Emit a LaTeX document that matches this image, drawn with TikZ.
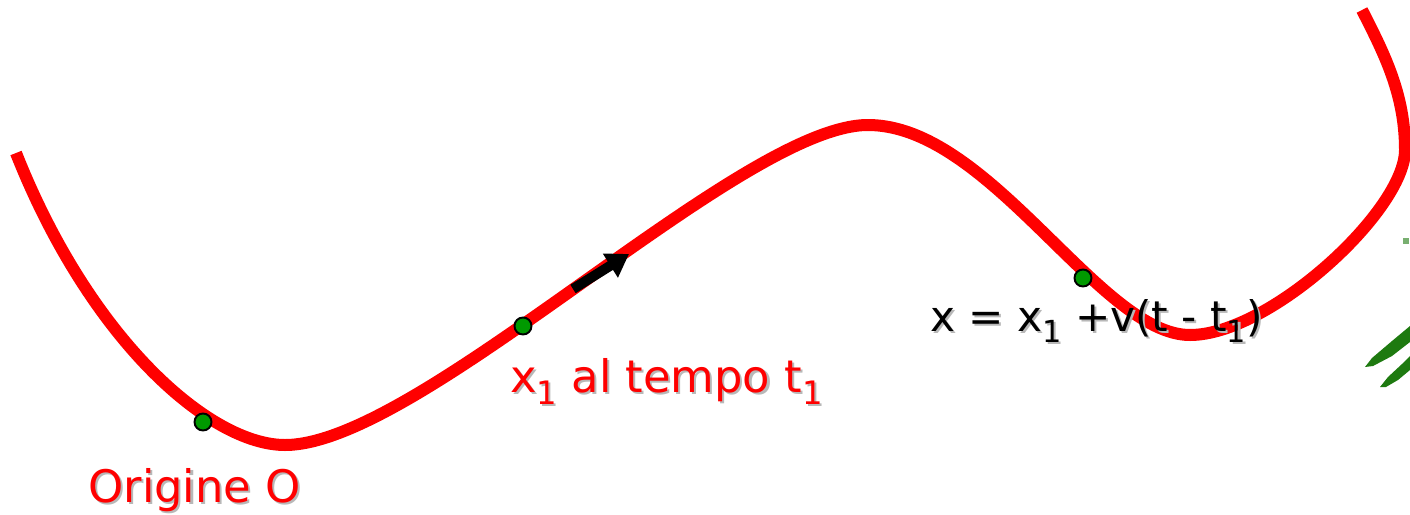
\documentclass[tikz,border=0pt]{standalone}
\usepackage{fontspec}
\setmainfont{DejaVu Sans}
\usetikzlibrary{arrows.meta}
\definecolor{curvered}{HTML}{FF0000}
\definecolor{dotgreen}{HTML}{009900}
\definecolor{leafgreen}{HTML}{1E7A10}
\newcommand\sbs[1]{\raisebox{-0.28em}{\scalebox{0.72}{#1}}}
\newcommand\shd[2]{\makebox[0pt][l]{\kern1.2pt\raisebox{-1.2pt}{\color{black!28}#2}}{\color{#1}#2}}
\tikzset{
  trajectory/.style={draw=curvered, line width=0.24cm},
  pt/.style={circle, fill=dotgreen, draw=black, line width=1.1pt, minimum size=0.34cm, inner sep=0pt},
  lbl/.style={inner sep=0pt, anchor=base west, font=\fontsize{25.5}{30}\selectfont},
  motion/.style={draw=black, line width=0.2cm, -{Triangle[length=0.44cm, width=0.54cm]}},
  leafpart/.style={fill=leafgreen, draw=none}
}
\begin{document}
\begin{tikzpicture}[x=0.02cm, y=-0.02cm]
\useasboundingbox (0,0) rectangle (1410,514);
% trajectory
\draw[trajectory] (16,153)
  .. controls (90,340) and (210,445) .. (285,445)
  .. controls (420,445) and (740,125) .. (868,125)
  .. controls (990,125) and (1100,335) .. (1190,335)
  .. controls (1270,335) and (1405,210) .. (1405,150)
  .. controls (1405,95) and (1385,55) .. (1362,10);
% velocity arrow
\coordinate (a0) at (573,289);
\coordinate (a1) at (629,254);
\draw[motion] (a0) -- (a1);
% points
\node[pt] (O) at (203,422) {};
\node[pt] (P1) at (523,326) {};
\node[pt] (P2) at (1083,278) {};
% labels
\node[lbl] (lO) at (88,502) {\shd{curvered}{Origine O}};
\node[lbl] (l1) at (510,392) {\shd{curvered}{x\sbs{1} al tempo t\sbs{1}}};
\node[lbl, font=\fontsize{24}{28}\selectfont] (l2) at (930,331) {\shd{black}{x = x\sbs{1} +v(t - t\sbs{1})}};
% leaf fragment at right edge
\fill[leafpart] (1365,367) -- (1372,358) -- (1392,341) -- (1410,326) -- (1410,342) -- (1392,356) -- (1373,366) -- cycle;
\fill[leafpart] (1380,387) -- (1388,377) -- (1402,364) -- (1410,356) -- (1410,370) -- (1398,380) -- (1386,387) -- cycle;
\fill[leafgreen!60] (1403,238) rectangle (1409,244);
\end{tikzpicture}
\end{document}
